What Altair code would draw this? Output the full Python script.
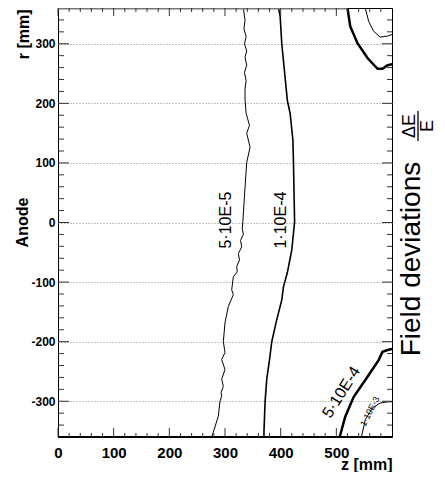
import altair as alt
import pandas as pd

# ---- contour 5*10E-5 (thin, wiggly) ----
c5e5_z = [333, 336, 334, 338, 335, 339, 336, 339, 335, 338, 336, 336, 338, 344, 339, 345, 339,
          336, 332, 331, 333, 328, 330, 324, 326, 321, 322, 315, 312, 315, 306, 300, 297, 300,
          294, 300, 294, 297, 293, 294, 291, 288, 279, 276]
c5e5_r = [360, 339, 325, 312, 300, 288, 277, 264, 252, 238, 225, 205, 183, 163, 150, 126, 101,
          59, 1, -10, -20, -30, -41, -52, -63, -74, -83, -91, -113, -121, -141, -168, -200, -218,
          -230, -247, -263, -275, -285, -292, -300, -325, -352, -360]

# ---- contour 1*10E-4 ----
c1e4_z = [396, 399, 402, 408, 412, 417, 422, 423, 425, 420, 412, 405, 402, 393, 384, 380, 375, 372, 370, 370]
c1e4_r = [360, 347, 300, 243, 205, 183, 138, 101, 1, -46, -84, -108, -130, -163, -200, -230, -263, -301, -351, -360]

# ---- contour 5*10E-4 (thick), top-right and bottom-right ----
c5e4_top_z = [520, 525, 538, 556, 574, 583, 592, 602]
c5e4_top_r = [360, 329, 301, 276, 258, 258, 264, 266]
c5e4_bot_z = [506, 516, 531, 556, 576, 583, 592, 602]
c5e4_bot_r = [-360, -326, -293, -259, -231, -217, -214, -212]

# ---- contour 1*10E-3 (thin) ----
c1e3_top_z = [552, 558, 567, 579, 592, 602]
c1e3_top_r = [360, 338, 321, 311, 313, 316]
c1e3_bot_z = [545, 552, 565, 579, 592, 602]
c1e3_bot_r = [-360, -331, -311, -303, -301, -301]

# ---- axes ----
x_major = [0, 100, 200, 300, 400, 500]
x_minor = [v for v in range(20, 600, 20) if v % 100 != 0]
y_major = [-300, -200, -100, 0, 100, 200, 300]
y_minor = [v for v in range(-340, 360, 20) if v % 100 != 0]

# ---- contour labels ----
lab_text = ["5·10E-5", "1·10E-4", "5·10E-4", "1·10E-3"]
lab_z = [302, 401, 509, 560]
lab_r = [4, 4, -285, -317]
lab_angle = [270, 270, 302, 297]
lab_size = [16, 16, 16, 9]

W, H = 334, 429
FONT = "Liberation Sans"

xs = alt.Scale(domain=[0, 600], nice=False, zero=False)
ys = alt.Scale(domain=[-360, 360], nice=False, zero=False)

xaxis = alt.Axis(values=x_major, title="z [mm]", titleAnchor="end", titleAlign="right",
                 titleX=W, titleY=32, titleBaseline="alphabetic", titleFontSize=16,
                 titleFontWeight="bold", labelFontSize=15, labelFontWeight="bold",
                 labelPadding=8, ticks=False, tickSize=0, domain=False, grid=False,
                 labelFlush=False, labelExpr="'' + datum.value")
yaxis = alt.Axis(values=y_major, title="r [mm]", titleAngle=270, titleAlign="right",
                 titleX=-30, titleY=1, titleBaseline="alphabetic", titleFontSize=16,
                 titleFontWeight="bold", labelFontSize=12, labelFontWeight="bold",
                 labelPadding=3, ticks=False, tickSize=0, domain=False, grid=True,
                 gridDash=[1, 2], gridColor="#888888", gridWidth=1,
                 labelExpr="'' + datum.value")

X = alt.X("z:Q", scale=xs, axis=xaxis)
Y = alt.Y("r:Q", scale=ys, axis=yaxis)


def frame(zs, rs, seg):
    return pd.DataFrame({"z": zs, "r": rs, "seg": seg, "i": list(range(len(zs)))})


def contour(df, width):
    return alt.Chart(df).mark_line(color="black", strokeWidth=width, clip=True,
                                   interpolate="linear").encode(
        x=X, y=Y, detail="seg:N", order="i:Q")


layers = []
layers.append(contour(frame(c5e5_z, c5e5_r, "a"), 1.0))
layers.append(contour(frame(c1e4_z, c1e4_r, "a"), 1.6))
layers.append(contour(pd.concat([frame(c5e4_top_z, c5e4_top_r, "t"),
                                 frame(c5e4_bot_z, c5e4_bot_r, "b")]), 2.5))
layers.append(contour(pd.concat([frame(c1e3_top_z, c1e3_top_r, "t"),
                                 frame(c1e3_bot_z, c1e3_bot_r, "b")]), 1.0))

# heavy edges along top and bottom
layers.append(alt.Chart(pd.DataFrame({"r": [360], "z": [0], "z2": [520]})).mark_rule(
    color="#777777", strokeWidth=3).encode(y=Y, x=X, x2="z2:Q"))
layers.append(alt.Chart(pd.DataFrame({"r": [-360], "z": [0], "z2": [600]})).mark_rule(
    color="black", strokeWidth=2).encode(y=Y, x=X, x2="z2:Q"))

# inward ticks
ymaj = pd.DataFrame({"r": y_major})
ymin = pd.DataFrame({"r": y_minor})
xmaj = pd.DataFrame({"z": x_major})
xmin = pd.DataFrame({"z": x_minor})
tc = "#333333"
layers += [
    alt.Chart(ymaj).mark_rule(color=tc).encode(y=Y, x=alt.value(0), x2=alt.value(11)),
    alt.Chart(ymin).mark_rule(color=tc).encode(y=Y, x=alt.value(0), x2=alt.value(6)),
    alt.Chart(ymaj).mark_rule(color=tc).encode(y=Y, x=alt.value(W), x2=alt.value(W - 10)),
    alt.Chart(ymin).mark_rule(color=tc).encode(y=Y, x=alt.value(W), x2=alt.value(W - 5)),
    alt.Chart(xmaj).mark_rule(color=tc).encode(x=X, y=alt.value(H), y2=alt.value(H - 9)),
    alt.Chart(xmin).mark_rule(color=tc).encode(x=X, y=alt.value(H), y2=alt.value(H - 4)),
    alt.Chart(xmaj).mark_rule(color=tc).encode(x=X, y=alt.value(0), y2=alt.value(8)),
    alt.Chart(xmin).mark_rule(color=tc).encode(x=X, y=alt.value(0), y2=alt.value(4)),
]

# contour labels
for t, z, r, a, s in zip(lab_text, lab_z, lab_r, lab_angle, lab_size):
    layers.append(alt.Chart(pd.DataFrame({"z": [z], "r": [r], "t": [t]})).mark_text(
        angle=a, fontSize=s, font=FONT, color="black", align="center",
        baseline="middle").encode(x=X, y=Y, text="t:N"))

# "Anode" label on the left
layers.append(alt.Chart(pd.DataFrame({"r": [0], "t": ["Anode"]})).mark_text(
    angle=270, fontSize=16, fontWeight="bold", font=FONT, align="center",
    baseline="alphabetic", clip=False).encode(x=alt.value(-30), y=Y, text="t:N"))

# right-hand title: Field deviations  dE/E
layers.append(alt.Chart(pd.DataFrame({"t": ["Field deviations"]})).mark_text(
    angle=270, fontSize=28, font=FONT, align="center", baseline="alphabetic").encode(
    x=alt.value(362), y=alt.value(251), text="t:N"))
layers.append(alt.Chart(pd.DataFrame({"t": ["ΔE"]})).mark_text(
    angle=270, fontSize=18, font=FONT, align="center", baseline="alphabetic").encode(
    x=alt.value(357), y=alt.value(118), text="t:N"))
layers.append(alt.Chart(pd.DataFrame({"t": ["E"]})).mark_text(
    angle=270, fontSize=18, font=FONT, align="center", baseline="bottom").encode(
    x=alt.value(379), y=alt.value(118), text="t:N"))
layers.append(alt.Chart(pd.DataFrame({"t": ["bar"]})).mark_rule(
    color="black", strokeWidth=1.3).encode(
    x=alt.value(360), y=alt.value(103), y2=alt.value(133)))

chart = alt.layer(*layers).properties(
    width=W, height=H,
    padding={"left": 50, "top": 0, "right": 45, "bottom": 35},
    autosize=alt.AutoSizeParams(type="none"),
).configure_view(stroke="black", strokeWidth=1).configure_axis(
    labelFont=FONT, titleFont=FONT, labelColor="black", titleColor="black"
).configure_text(font=FONT)

chart.save("out.html", embed_options={"renderer": "svg", "actions": False})
